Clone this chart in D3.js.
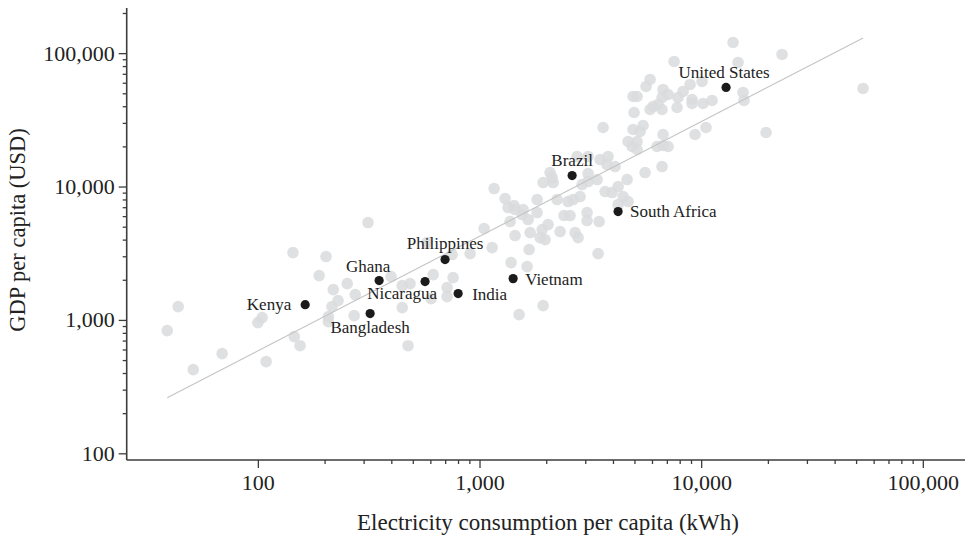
<!DOCTYPE html>
<html><head><meta charset="utf-8">
<script src="https://cdn.jsdelivr.net/npm/d3@7"></script>
<style>
html,body{margin:0;padding:0;background:#fff;}
svg text{font-family:"Liberation Serif","Times New Roman",serif;}
</style></head>
<body><svg id="chart" width="965" height="535"></svg>
<script>
// Other countries: electricity consumption per capita (kWh)
const otherKwh = [39,43.7,51.1,69,100,104.5,109,144,146,155,189,203,208,208,216,219,230,253,275,272,314,399,448,486,448,476,618,605,714,714,760,752,907,580,1049,1164,1305,1346,1432,1447,1573,1657,1557,1374,1447,1692,1917,2039,1876,1977,2310,2699,2784,1674,1140,1388,1640,3428,1819,1819,1937,2148,2082,2126,2407,2562,3057,3057,3464,2239,2508,2644,2843,2903,2755,3089,3499,3802,3763,4090,3089,3089,3393,3687,3963,4219,4633,4444,4681,4219,5585,6662,6324,6730,7090,6730,3610,4981,4930,5643,5884,6730,7090,6662,8288,8911,10094,6069,6390,5884,6662,7783,7864,9100,9100,10199,11200,5470,4930,5302,4681,5140,4880,5140,9387,10520,15450,15610,13930,23170,14670,7546,53740,19630,5140,1937,1509];
// Other countries: GDP per capita (USD)
const otherGdp = [832,1258,424,559,954,1041,487,3198,749,641,2149,2985,1059,971,1258,1688,1396,1872,1548,1077,5369,2112,1808,1872,1237,641,2186,1444,1747,1495,2076,3090,3143,3800,4840,9660,8128,6960,7203,6722,6722,5655,6166,5463,4290,4517,4758,5186,4143,4002,4596,4517,4143,3369,3486,2691,2511,3143,7988,6383,10715,10715,12735,11680,6060,6060,6383,5559,5463,7988,7716,7988,8414,10351,16788,16788,15945,16788,14622,14125,12516,10901,11284,9173,9016,10000,11284,8414,7716,7328,12735,14125,19953,20302,19953,24547,27709,35907,47338,56260,63478,53420,48990,46520,51600,58240,61330,39830,41230,37810,37810,39140,46520,44940,41950,41950,44180,28690,26770,25860,21760,21760,19953,18950,24547,27709,50720,44180,120300,97770,85160,86650,54360,25420,47338,1280,1096];

// Highlighted countries
const namedCountries = ["Kenya","Bangladesh","Ghana","Nicaragua","Philippines","India","Vietnam","Brazil","South Africa","United States"];
const namedKwh = [163.5,321,352.5,568,699,801,1418,2617,4219,12950];
const namedGdp = [1302,1115,1971,1938,2835,1575,2040,12090,6494,55300];

// Fitted trend line endpoints
const trendKwh = [39,53800];
const trendGdp = [261,130000];

// Axis ticks
const xMajorTicks = [100,1000,10000,100000];
const yMajorTicks = [100,1000,10000,100000];
const xTitle = "Electricity consumption per capita (kWh)";
const yTitle = "GDP per capita (USD)";

// label placement (styling)
const labelPlace = {
  "Kenya":{dx:-14,dy:5,anchor:"end"},
  "Bangladesh":{dx:0,dy:19,anchor:"middle"},
  "Ghana":{dx:-11,dy:-9,anchor:"middle"},
  "Nicaragua":{dx:-23,dy:17,anchor:"middle"},
  "Philippines":{dx:0,dy:-11,anchor:"middle"},
  "India":{dx:14,dy:6,anchor:"start"},
  "Vietnam":{dx:12,dy:6,anchor:"start"},
  "Brazil":{dx:0,dy:-9.5,anchor:"middle"},
  "South Africa":{dx:12,dy:5,anchor:"start"},
  "United States":{dx:-2,dy:-9,anchor:"middle"}
};

const svg = d3.select("#chart");
const mLeft = 126.7, mRight = 965, mTop = 8, mBottom = 460;
const x = d3.scaleLog().domain([25.6,155000]).range([mLeft,mRight]);
const y = d3.scaleLog().domain([89.1,218000]).range([mBottom,mTop]);

function minors(lo,hi){const out=[];for(let p=1;p<=5;p++){const b=Math.pow(10,p);for(let m=2;m<=9;m++){const v=m*b;if(v>=lo&&v<=hi)out.push(v);}}return out;}

const axisColor = "#3d3d3d";
const gxm = svg.append("g").attr("transform",`translate(0,${mBottom})`)
  .call(d3.axisBottom(x).tickValues(minors(200,90000)).tickSize(4).tickFormat(""));
const gym = svg.append("g").attr("transform",`translate(${mLeft},0)`)
  .call(d3.axisLeft(y).tickValues(minors(200,200000)).tickSize(4).tickFormat(""));
const gx = svg.append("g").attr("transform",`translate(0,${mBottom})`)
  .call(d3.axisBottom(x).tickValues(xMajorTicks).tickSize(8).tickPadding(6).tickFormat(d3.format(",")));
const gy = svg.append("g").attr("transform",`translate(${mLeft},0)`)
  .call(d3.axisLeft(y).tickValues(yMajorTicks).tickSize(8).tickPadding(4).tickFormat(d3.format(",")));
[gxm,gym,gx,gy].forEach(g=>{
  g.selectAll("path").attr("stroke",axisColor).attr("stroke-width",1.6);
  g.selectAll("line").attr("stroke",axisColor).attr("stroke-width",1.3);
  g.selectAll("text").attr("fill","#222").style("font-size","22px").style("font-family","Liberation Serif, serif");
});
gx.select(".domain").attr("d",`M${mLeft},0H${mRight}`);
gxm.select(".domain").remove();
gym.select(".domain").remove();
gy.select(".domain").attr("d",`M0,${mTop}V${mBottom}`);

svg.append("g").selectAll("circle").data(otherKwh.map((v,i)=>[v,otherGdp[i]]))
  .join("circle").attr("cx",d=>x(d[0])).attr("cy",d=>y(d[1])).attr("r",5.8)
  .attr("fill","#d9dadc").attr("fill-opacity",0.85);

svg.append("line")
  .attr("x1",x(trendKwh[0])).attr("y1",y(trendGdp[0]))
  .attr("x2",x(trendKwh[1])).attr("y2",y(trendGdp[1]))
  .attr("stroke","#c4c4c4").attr("stroke-width",1.1);

const named = namedCountries.map((n,i)=>({n,x:namedKwh[i],y:namedGdp[i]}));
svg.append("g").selectAll("circle").data(named).join("circle")
  .attr("cx",d=>x(d.x)).attr("cy",d=>y(d.y)).attr("r",4.6).attr("fill","#1b1b1b");
svg.append("g").selectAll("text").data(named).join("text")
  .attr("x",d=>x(d.x)+labelPlace[d.n].dx).attr("y",d=>y(d.y)+labelPlace[d.n].dy)
  .attr("text-anchor",d=>labelPlace[d.n].anchor)
  .style("font-size","17px").attr("fill","#222").text(d=>d.n);

svg.append("text").attr("x",548).attr("y",530).attr("text-anchor","middle")
  .style("font-size","23px").attr("fill","#222").text(xTitle);
svg.append("text").attr("transform","translate(25,230) rotate(-90)").attr("text-anchor","middle")
  .style("font-size","22.5px").attr("fill","#222").text(yTitle);
</script></body></html>
